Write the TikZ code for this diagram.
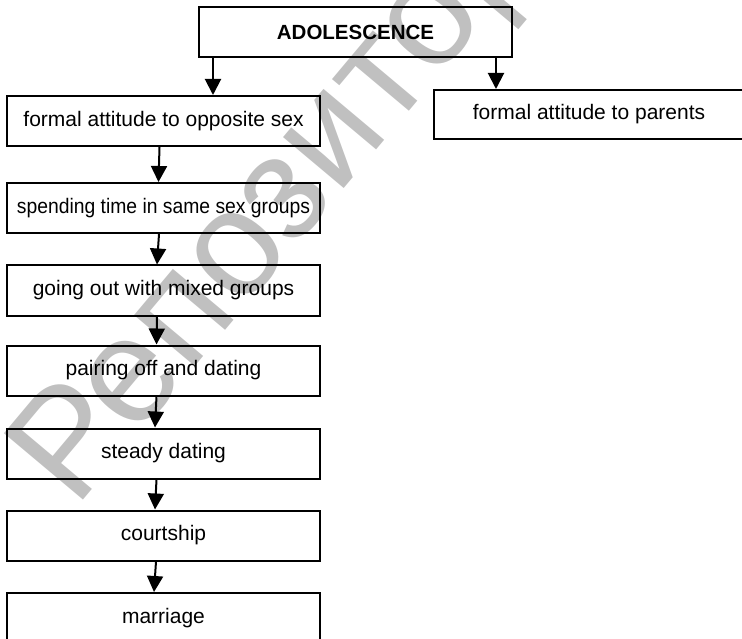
\documentclass[tikz,border=0pt]{standalone}
\usepackage{fontspec}
\setmainfont{Liberation Sans}
\usetikzlibrary{arrows.meta}
\definecolor{wm}{RGB}{192,192,192}
\tikzset{
  box/.style={draw=black, line width=2pt, minimum width=313pt, minimum height=50pt, inner sep=0pt, font=\fontsize{21}{24}\selectfont},
  arr/.style={draw=black, line width=2pt, -{Triangle[width=16pt,length=16pt]}},
}
\begin{document}
\begin{tikzpicture}[x=1pt,y=-1pt]
\useasboundingbox (0,0) rectangle (742,639);
\clip (0,0) rectangle (742,639);
% watermark
\node[anchor=base west, rotate=50, text=wm, inner sep=0pt, font=\fontsize{150}{155}\selectfont] (wm) at (75,510) {Репозиторий};
% boxes
\node[box, font=\fontsize{20.5}{24}\selectfont\bfseries] (adol) at (355.5,32) {ADOLESCENCE};
\node[box, minimum width=310pt, minimum height=49pt] (par) at (589,114.5) {formal attitude to parents};
\node[box] (b1) at (163.5,121) {formal attitude to opposite sex};
\node[box] (b2) at (163.5,208) {\scalebox{0.92}[1]{spending time in same sex groups}};
\node[box] (b3) at (163.5,290.5) {going out with mixed groups};
\node[box] (b4) at (163.5,370.5) {pairing off and dating};
\node[box] (b5) at (163.5,453.5) {steady dating};
\node[box] (b6) at (163.5,535.5) {courtship};
\node[box] (b7) at (163.5,618) {marriage};
% arrows
\draw[arr] ([xshift=-142.5pt]adol.south) -- ([xshift=49.5pt]b1.north);
\draw[arr] ([xshift=140.5pt]adol.south) -- ([xshift=-93pt]par.north);
\draw[arr] ([xshift=-4pt]b1.south) -- ([xshift=-5pt]b2.north);
\draw[arr] ([xshift=-4.5pt]b2.south) -- ([xshift=-6.5pt]b3.north);
\draw[arr] ([xshift=-6.5pt]b3.south) -- ([xshift=-7pt]b4.north);
\draw[arr] ([xshift=-7pt]b4.south) -- ([xshift=-8.5pt]b5.north);
\draw[arr] ([xshift=-7pt]b5.south) -- ([xshift=-8.5pt]b6.north);
\draw[arr] ([xshift=-7.5pt]b6.south) -- ([xshift=-9.5pt]b7.north);
\end{tikzpicture}
\end{document}
